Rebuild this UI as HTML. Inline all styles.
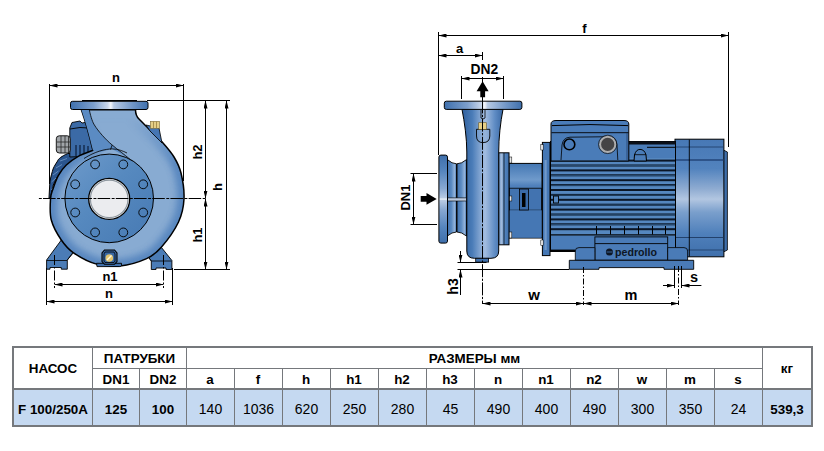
<!DOCTYPE html>
<html><head><meta charset="utf-8">
<style>
html,body{margin:0;padding:0;background:#fff;}
body{width:824px;height:451px;overflow:hidden;position:relative;font-family:"Liberation Sans",sans-serif;}
svg{position:absolute;left:0;top:0;}
.dim{stroke:#000;stroke-width:1;fill:none;}
.lbl{font-family:"Liberation Sans",sans-serif;font-weight:bold;font-size:13px;fill:#000;}
.tb{font-family:"Liberation Sans",sans-serif;font-size:14px;fill:#000;text-anchor:middle;}
.tbb{font-weight:bold;font-size:13.4px;}
</style></head>
<body>
<svg width="824" height="451" viewBox="0 0 824 451">
<defs>
  <marker id="ar" viewBox="0 0 8 4" refX="8" refY="2" markerWidth="8" markerHeight="4" markerUnits="userSpaceOnUse" orient="auto-start-reverse">
    <path d="M0,0 L8,2 L0,4 Z" fill="#000"/>
  </marker>
  <linearGradient id="flH" x1="0" x2="1" y1="0" y2="0">
    <stop offset="0" stop-color="#3f70ad"/>
    <stop offset="0.3" stop-color="#7d9fcc"/>
    <stop offset="0.48" stop-color="#c9d6ea"/>
    <stop offset="0.52" stop-color="#f4f6fb"/>
    <stop offset="0.56" stop-color="#b6c8e2"/>
    <stop offset="0.8" stop-color="#7196c6"/>
    <stop offset="1" stop-color="#3f70ad"/>
  </linearGradient>
  <linearGradient id="flV" x1="0" x2="0" y1="0" y2="1">
    <stop offset="0" stop-color="#3f70ad"/>
    <stop offset="0.4" stop-color="#7d9fcc"/>
    <stop offset="0.5" stop-color="#e8eef7"/>
    <stop offset="0.6" stop-color="#7d9fcc"/>
    <stop offset="1" stop-color="#3f70ad"/>
  </linearGradient>
  <linearGradient id="pipeH" x1="0" x2="1" y1="0" y2="0">
    <stop offset="0" stop-color="#3a68a3"/>
    <stop offset="0.2" stop-color="#8db0da"/>
    <stop offset="0.45" stop-color="#5d8cc4"/>
    <stop offset="1" stop-color="#3a68a3"/>
  </linearGradient>
  <linearGradient id="fanV" x1="0" x2="0" y1="0" y2="1">
    <stop offset="0" stop-color="#3f6fab"/>
    <stop offset="0.45" stop-color="#7fa2cf"/>
    <stop offset="0.57" stop-color="#b5c8e3"/>
    <stop offset="0.7" stop-color="#6f95c6"/>
    <stop offset="1" stop-color="#3f6fab"/>
  </linearGradient>
  <radialGradient id="vol" cx="0.7" cy="0.45" r="0.7">
    <stop offset="0" stop-color="#8fb1d6"/>
    <stop offset="0.6" stop-color="#7aa1cd"/>
    <stop offset="1" stop-color="#4e7fba"/>
  </radialGradient>
</defs>

<!-- ================= LEFT PUMP ================= -->
<defs>
  <radialGradient id="cas" gradientUnits="userSpaceOnUse" cx="112" cy="199" r="74">
    <stop offset="0" stop-color="#8cafd5"/>
    <stop offset="0.7" stop-color="#86aad2"/>
    <stop offset="0.88" stop-color="#6f99c9"/>
    <stop offset="1" stop-color="#4f80ba"/>
  </radialGradient>
  <linearGradient id="face" x1="0" y1="0" x2="1" y2="1">
    <stop offset="0" stop-color="#6f9bcb"/>
    <stop offset="0.45" stop-color="#5689bf"/>
    <stop offset="1" stop-color="#4679b3"/>
  </linearGradient>
</defs>
<!-- motor behind -->
<path d="M67.6,153.6 C62,156 58,159 57.6,161 C55,165 53,168 52.3,171.6 C51,176 50,180 49.7,184.9 L49,198 L51,198 C51.5,190 53,183 58.3,175.6 C62,169 70,160 92.9,150.3 Z" fill="#2a558f" stroke="#000" stroke-width="1"/>
<g stroke="#7aa2d0" stroke-width="0.7"><line x1="51" y1="190" x2="54.5" y2="186"/><line x1="51.5" y1="182" x2="56" y2="178"/><line x1="53" y1="175" x2="58.5" y2="171"/><line x1="56" y1="168" x2="62" y2="164.5"/><line x1="60" y1="161" x2="67" y2="158.5"/></g>
<path d="M69.8,157 L69.8,128 L72,122.5 L80,121 L82,123 L88,122 L89.5,135 L93.8,146 L92,156 Z" fill="#3b6aa6" stroke="#000" stroke-width="0.9"/>
<path d="M70,129 L80,127.5 L89,128" fill="none" stroke="#000" stroke-width="0.9"/>
<g fill="#1e3c66"><rect x="75" y="145" width="2" height="11"/><rect x="79" y="145" width="2" height="11"/><rect x="83" y="145" width="2" height="11"/><rect x="87" y="146" width="2" height="10"/></g>
<rect x="56.3" y="135.8" width="14" height="17.2" rx="3" fill="#a1a5a9" stroke="#1a1a1a" stroke-width="1"/>
<g stroke="#2a2a2a" stroke-width="0.8"><line x1="61" y1="136" x2="61" y2="153"/><line x1="65" y1="136" x2="65" y2="153"/><line x1="68.5" y1="136" x2="68.5" y2="153"/><line x1="57" y1="142" x2="70" y2="142"/><line x1="57" y1="147" x2="70" y2="147"/></g>
<!-- feet -->
<path d="M61.3,240 L46.6,260 L46.6,269.2 L50,269.2 L50,267.5 L61.3,267.5 L61.3,269.2 L67.3,269.2 L67.3,260 L73.5,252.6 Z" fill="#4b7cb6" stroke="#000" stroke-width="0.9"/>
<path d="M161.3,247.3 L171.9,260.5 L171.9,269.5 L166,269.5 L166,268 L156,268 L156,269.5 L151.3,269.5 L151.3,261 L148.6,257.3 Z" fill="#4b7cb6" stroke="#000" stroke-width="0.9"/>
<g stroke="#000" stroke-width="0.8"><line x1="47" y1="260.5" x2="67" y2="260.5"/><line x1="67.3" y1="260" x2="74" y2="251"/><line x1="151.5" y1="261" x2="171.5" y2="261"/><line x1="151.3" y1="261" x2="146" y2="254"/></g>
<!-- volute body -->
<clipPath id="bodyclip"><path d="M81.4,109.8 L135.5,109.7 C135.5,113 136.5,116.5 139.0,119.0 C140.8,120.8 146.0,126.0 150.0,130.0 C154.0,134.0 159.0,138.5 163.0,143.0 C167.0,147.5 171.0,152.0 174.0,157.0 C177.0,162.0 179.3,166.0 181.0,173.0 C182.7,180.0 184.4,190.8 184.0,199.0 C183.6,207.2 182.3,213.9 178.5,222.0 C174.7,230.1 166.6,241.2 161.3,247.3 C156.0,253.4 153.5,255.5 146.6,258.6 C139.7,261.7 128.5,265.1 120.0,266.0 C111.5,266.9 103.6,266.1 95.8,263.9 C88.0,261.7 79.0,256.6 73.2,252.6 C67.5,248.6 65.0,245.4 61.3,240.0 C57.6,234.6 53.1,226.8 51.3,220.0 C49.5,213.2 50.2,204.2 50.5,199.0 C50.8,193.8 51.7,192.8 53.0,188.9 C54.3,185.0 56.1,179.6 58.3,175.6 C60.5,171.6 63.0,168.2 66.3,165.0 C69.6,161.8 73.8,158.8 78.2,156.3 C82.6,153.9 90.5,151.3 92.9,150.3 C90,138 85,120 81.4,109.8 Z"/></clipPath>
<filter id="blr" x="-20%" y="-20%" width="140%" height="140%"><feGaussianBlur stdDeviation="3"/></filter>
<path d="M81.4,109.8 L135.5,109.7 C135.5,113 136.5,116.5 139.0,119.0 C140.8,120.8 146.0,126.0 150.0,130.0 C154.0,134.0 159.0,138.5 163.0,143.0 C167.0,147.5 171.0,152.0 174.0,157.0 C177.0,162.0 179.3,166.0 181.0,173.0 C182.7,180.0 184.4,190.8 184.0,199.0 C183.6,207.2 182.3,213.9 178.5,222.0 C174.7,230.1 166.6,241.2 161.3,247.3 C156.0,253.4 153.5,255.5 146.6,258.6 C139.7,261.7 128.5,265.1 120.0,266.0 C111.5,266.9 103.6,266.1 95.8,263.9 C88.0,261.7 79.0,256.6 73.2,252.6 C67.5,248.6 65.0,245.4 61.3,240.0 C57.6,234.6 53.1,226.8 51.3,220.0 C49.5,213.2 50.2,204.2 50.5,199.0 C50.8,193.8 51.7,192.8 53.0,188.9 C54.3,185.0 56.1,179.6 58.3,175.6 C60.5,171.6 63.0,168.2 66.3,165.0 C69.6,161.8 73.8,158.8 78.2,156.3 C82.6,153.9 90.5,151.3 92.9,150.3 C90,138 85,120 81.4,109.8 Z" fill="#88abd2"/>
<linearGradient id="mg" gradientUnits="userSpaceOnUse" x1="0" y1="118" x2="0" y2="165"><stop offset="0" stop-color="#fff" stop-opacity="0"/><stop offset="1" stop-color="#fff" stop-opacity="1"/></linearGradient>
<mask id="bandmask" maskUnits="userSpaceOnUse" x="0" y="0" width="824" height="340"><rect x="0" y="0" width="824" height="340" fill="url(#mg)"/></mask>
<g clip-path="url(#bodyclip)" mask="url(#bandmask)"><path d="M81.4,109.8 L135.5,109.7 C135.5,113 136.5,116.5 139.0,119.0 C140.8,120.8 146.0,126.0 150.0,130.0 C154.0,134.0 159.0,138.5 163.0,143.0 C167.0,147.5 171.0,152.0 174.0,157.0 C177.0,162.0 179.3,166.0 181.0,173.0 C182.7,180.0 184.4,190.8 184.0,199.0 C183.6,207.2 182.3,213.9 178.5,222.0 C174.7,230.1 166.6,241.2 161.3,247.3 C156.0,253.4 153.5,255.5 146.6,258.6 C139.7,261.7 128.5,265.1 120.0,266.0 C111.5,266.9 103.6,266.1 95.8,263.9 C88.0,261.7 79.0,256.6 73.2,252.6 C67.5,248.6 65.0,245.4 61.3,240.0 C57.6,234.6 53.1,226.8 51.3,220.0 C49.5,213.2 50.2,204.2 50.5,199.0 C50.8,193.8 51.7,192.8 53.0,188.9 C54.3,185.0 56.1,179.6 58.3,175.6 C60.5,171.6 63.0,168.2 66.3,165.0 C69.6,161.8 73.8,158.8 78.2,156.3 C82.6,153.9 90.5,151.3 92.9,150.3 C90,138 85,120 81.4,109.8 Z" fill="none" stroke="#4a7cb9" stroke-width="14" opacity="0.75" filter="url(#blr)"/></g>
<path d="M81.4,109.8 L135.5,109.7 C135.5,113 136.5,116.5 139.0,119.0 C140.8,120.8 146.0,126.0 150.0,130.0 C154.0,134.0 159.0,138.5 163.0,143.0 C167.0,147.5 171.0,152.0 174.0,157.0 C177.0,162.0 179.3,166.0 181.0,173.0 C182.7,180.0 184.4,190.8 184.0,199.0 C183.6,207.2 182.3,213.9 178.5,222.0 C174.7,230.1 166.6,241.2 161.3,247.3 C156.0,253.4 153.5,255.5 146.6,258.6 C139.7,261.7 128.5,265.1 120.0,266.0 C111.5,266.9 103.6,266.1 95.8,263.9 C88.0,261.7 79.0,256.6 73.2,252.6 C67.5,248.6 65.0,245.4 61.3,240.0 C57.6,234.6 53.1,226.8 51.3,220.0 C49.5,213.2 50.2,204.2 50.5,199.0 C50.8,193.8 51.7,192.8 53.0,188.9 C54.3,185.0 56.1,179.6 58.3,175.6 C60.5,171.6 63.0,168.2 66.3,165.0 C69.6,161.8 73.8,158.8 78.2,156.3 C82.6,153.9 90.5,151.3 92.9,150.3 C90,138 85,120 81.4,109.8 Z" fill="none" stroke="#000" stroke-width="1.5"/>

<path d="M81.4,109.8 C85,120 90,138 92.9,150.3 L100,152 L112,149 L128.8,158.3 C125,155 118,150 112.2,145 C106,140 98,131 94.4,125 C93,123 91,118 89.3,109.8 Z" fill="#5b8bc3"/>
<path d="M89.3,109.8 C91,118 93,123 94.4,125 C98,131 106,140 112.2,145 C118,150 125,155 128.8,158.3 C134,162 142,169 148,177" fill="none" stroke="#000" stroke-width="0.8"/>
<path d="M84,158.5 C95,151.5 105,149 112.2,148.9 C118,149 123,151 127,153" fill="none" stroke="#000" stroke-width="0.8"/>
<line x1="112.2" y1="145" x2="110.5" y2="149.5" stroke="#000" stroke-width="0.8"/>
<!-- plug top right -->
<path d="M146,125 L159,128 L162,143 L150,131 Z" fill="#4676b3" stroke="#000" stroke-width="0.8"/>
<rect x="150.3" y="121.3" width="9.3" height="7" fill="#e6cf86" stroke="#7a6a3a" stroke-width="0.6"/>
<g stroke="#9a8240" stroke-width="0.8"><line x1="153.5" y1="121.5" x2="153.5" y2="128"/><line x1="156.5" y1="121.5" x2="156.5" y2="128"/></g>
<!-- flange top -->
<rect x="70.5" y="101.3" width="77.5" height="8.2" rx="2" fill="url(#flH)" stroke="#000" stroke-width="1"/>
<line x1="82" y1="100.5" x2="137" y2="100.5" stroke="#000" stroke-width="1"/>
<!-- flange face -->
<circle cx="109.2" cy="198.4" r="44.3" fill="url(#face)" stroke="#000" stroke-width="1"/>
<g fill="none" stroke="#000" stroke-width="0.9">
  <circle cx="123.3" cy="164.4" r="4.4"/>
  <circle cx="143.2" cy="184.3" r="4.4"/>
  <circle cx="143.2" cy="212.5" r="4.4"/>
  <circle cx="123.3" cy="232.4" r="4.4"/>
  <circle cx="95.1" cy="232.4" r="4.4"/>
  <circle cx="75.2" cy="212.5" r="4.4"/>
  <circle cx="75.2" cy="184.3" r="4.4"/>
  <circle cx="95.1" cy="164.4" r="4.4"/>
</g>
<circle cx="109.2" cy="198.9" r="20.5" fill="#ebecef" stroke="#000" stroke-width="1.3"/>
<circle cx="109.2" cy="198.9" r="18.8" fill="none" stroke="#8e979f" stroke-width="1.2"/>
<!-- drain plug -->
<path d="M96.5,263.3 L121.5,263.3 L121.5,265.5 Q121,266.6 119.5,266.6 L97,266.6 Z" fill="#3f6fab" stroke="#000" stroke-width="0.9"/>
<path d="M104.5,250 L114.5,250 L117,253 L117,261.5 L114.5,264.3 L104.5,264.3 L102,261.5 L102,253 Z" fill="#3a69a5" stroke="#000" stroke-width="1.1"/>
<path d="M105,252 L114,252 L115,254 L115,261 L114,262.5 L105,262.5 L104,261 L104,254 Z" fill="none" stroke="#000" stroke-width="0.8"/>
<circle cx="109.3" cy="258" r="3.8" fill="#e2c46e"/>
<path d="M107,260 L111.5,255.5" stroke="#fff8dc" stroke-width="1.4"/>
<!-- left dims -->
<g class="dim">
  <line x1="49.5" y1="84" x2="49.5" y2="184"/>
  <line x1="183.5" y1="84" x2="183.5" y2="181"/>
  <line x1="49.5" y1="85.5" x2="183.5" y2="85.5" marker-start="url(#ar)" marker-end="url(#ar)"/>
  <line x1="147" y1="100.5" x2="230" y2="100.5"/>
  <line x1="174" y1="269.5" x2="230" y2="269.5"/>
  <line x1="205.5" y1="100.5" x2="205.5" y2="198.5" marker-start="url(#ar)" marker-end="url(#ar)"/>
  <line x1="205.5" y1="198.5" x2="205.5" y2="269.5" marker-start="url(#ar)" marker-end="url(#ar)"/>
  <line x1="226.5" y1="100.5" x2="226.5" y2="269.5" marker-start="url(#ar)" marker-end="url(#ar)"/>
  <line x1="38.9" y1="198.5" x2="205" y2="198.5" stroke-dasharray="12.6,1.5,2.9,1.2" stroke-dashoffset="14.1"/>
  <line x1="54.5" y1="255" x2="54.5" y2="288" stroke-dasharray="10,2,1.5,2"/>
  <line x1="163.5" y1="255" x2="163.5" y2="288" stroke-dasharray="10,2,1.5,2"/>
  <line x1="54.5" y1="284.5" x2="163.5" y2="284.5" marker-start="url(#ar)" marker-end="url(#ar)"/>
  <line x1="46.5" y1="268" x2="46.5" y2="305"/>
  <line x1="172.5" y1="268" x2="172.5" y2="305"/>
  <line x1="46.5" y1="301.5" x2="172.5" y2="301.5" marker-start="url(#ar)" marker-end="url(#ar)"/>
</g>
<text class="lbl" x="116" y="82" text-anchor="middle">n</text>
<text class="lbl" x="110" y="281" text-anchor="middle">n1</text>
<text class="lbl" x="109" y="298" text-anchor="middle">n</text>
<text class="lbl" transform="translate(202,152) rotate(-90)" text-anchor="middle">h2</text>
<text class="lbl" transform="translate(222,187) rotate(-90)" text-anchor="middle">h</text>
<text class="lbl" transform="translate(202,235) rotate(-90)" text-anchor="middle">h1</text>

<!-- ================= RIGHT PUMP ================= -->
<defs>
  <linearGradient id="vpipe" x1="0" x2="1" y1="0" y2="0">
    <stop offset="0" stop-color="#2f5f9c"/>
    <stop offset="0.25" stop-color="#4a7cb8"/>
    <stop offset="0.56" stop-color="#a3bde0"/>
    <stop offset="0.8" stop-color="#5f8cc4"/>
    <stop offset="1" stop-color="#3a69a5"/>
  </linearGradient>
  <linearGradient id="fan2" x1="0" x2="0" y1="0" y2="1">
    <stop offset="0" stop-color="#4778b5"/>
    <stop offset="0.25" stop-color="#5283be"/>
    <stop offset="0.42" stop-color="#8eabd1"/>
    <stop offset="0.51" stop-color="#b2c6e1"/>
    <stop offset="0.62" stop-color="#7a9fcc"/>
    <stop offset="0.8" stop-color="#4f80bb"/>
    <stop offset="1" stop-color="#3f6fab"/>
  </linearGradient>
  <linearGradient id="lant" x1="0" x2="0" y1="0" y2="1">
    <stop offset="0" stop-color="#4477b3"/>
    <stop offset="0.22" stop-color="#6f9acb"/>
    <stop offset="0.3" stop-color="#4f80bb"/>
    <stop offset="1" stop-color="#4a7bb7"/>
  </linearGradient>
  <linearGradient id="inl" x1="0" x2="0" y1="0" y2="1">
    <stop offset="0" stop-color="#3f6fab"/>
    <stop offset="0.18" stop-color="#5585be"/>
    <stop offset="0.38" stop-color="#88a8d2"/>
    <stop offset="0.485" stop-color="#b9cbe4"/>
    <stop offset="0.5" stop-color="#f0f4fa"/>
    <stop offset="0.515" stop-color="#b9cbe4"/>
    <stop offset="0.62" stop-color="#88a8d2"/>
    <stop offset="0.82" stop-color="#5585be"/>
    <stop offset="1" stop-color="#3f6fab"/>
  </linearGradient>
</defs>
<!-- fan cover -->
<path d="M723.5,150 L727.4,152 L727.4,250 L723.5,252 Z" fill="#3f6fab" stroke="#000" stroke-width="0.8"/>
<rect x="675" y="139.2" width="48.9" height="117.6" fill="url(#fan2)" stroke="#000" stroke-width="1"/>
<line x1="675.5" y1="147" x2="723.5" y2="147" stroke="#1d3a63" stroke-width="0.8"/>
<line x1="675.5" y1="160" x2="723.5" y2="160" stroke="#23467a" stroke-width="1.6"/>
<line x1="675.5" y1="237.5" x2="723.5" y2="237.5" stroke="#1d3a63" stroke-width="0.9"/>
<line x1="675.5" y1="250" x2="723.5" y2="250" stroke="#1d3a63" stroke-width="0.8"/>
<line x1="689.3" y1="139.5" x2="689.3" y2="256.5" stroke="#000" stroke-width="0.9"/>
<!-- motor body -->
<rect x="550.5" y="141.5" width="125" height="110" fill="#4a7cb8" stroke="#000" stroke-width="1"/>
<rect x="629" y="141.5" width="46.5" height="3" fill="#0a0f18"/>
<line x1="647" y1="147.3" x2="675" y2="147.3" stroke="#000" stroke-width="1"/>
<rect x="551" y="158" width="124" height="78" fill="#5587bf"/>
<g fill="#0b1626">
  <rect x="551" y="159.6" width="124" height="2.0"/>
  <rect x="551" y="164.5" width="124" height="2.0"/>
  <rect x="551" y="165.2" width="124" height="0.8" fill="#2d5680"/>
  <rect x="551" y="169.4" width="124" height="2.0"/>
  <rect x="551" y="174.3" width="124" height="2.0"/>
  <rect x="551" y="175.1" width="124" height="0.8" fill="#2d5680"/>
  <rect x="551" y="179.2" width="124" height="2.0"/>
  <rect x="551" y="184.1" width="124" height="2.0"/>
  <rect x="551" y="184.9" width="124" height="0.8" fill="#2d5680"/>
  <rect x="551" y="189.0" width="124" height="2.0"/>
  <rect x="551" y="193.9" width="124" height="2.0"/>
  <rect x="551" y="194.7" width="124" height="0.8" fill="#2d5680"/>
  <rect x="551" y="198.8" width="124" height="2.0"/>
  <rect x="551" y="203.7" width="124" height="2.0"/>
  <rect x="551" y="204.5" width="124" height="0.8" fill="#2d5680"/>
  <rect x="551" y="208.6" width="124" height="2.0"/>
  <rect x="551" y="213.5" width="124" height="2.0"/>
  <rect x="551" y="214.3" width="124" height="0.8" fill="#2d5680"/>
  <rect x="551" y="218.4" width="124" height="2.0"/>
  <rect x="551" y="223.3" width="124" height="2.0"/>
  <rect x="551" y="224.1" width="124" height="0.8" fill="#2d5680"/>
  <rect x="551" y="228.2" width="124" height="2.0"/>
</g>
<rect x="551" y="234.3" width="124" height="1.2" fill="#000"/>
<g fill="#000"><rect x="596.0" y="226" width="1" height="8.5"/><rect x="610.0" y="226" width="1" height="8.5"/><rect x="624.0" y="226" width="1" height="8.5"/><rect x="638.0" y="226" width="1" height="8.5"/><rect x="652.0" y="226" width="1" height="8.5"/><rect x="665.0" y="226" width="1" height="8.5"/></g>
<rect x="553.5" y="196" width="5" height="7" fill="#5587bf" stroke="#000" stroke-width="0.9"/>
<rect x="551" y="249.6" width="24" height="2" fill="#000"/>
<!-- terminal box -->
<path d="M551,161 L551,124 Q551,120.5 556,120.5 L624,120.5 Q628.8,120.5 628.8,124 L628.8,161 Z" fill="#4a7cb8" stroke="#000" stroke-width="1"/>
<path d="M552,125.6 Q590,123.5 628,125.6" fill="none" stroke="#000" stroke-width="1"/>
<line x1="551.5" y1="132.7" x2="628.5" y2="132.7" stroke="#000" stroke-width="0.9"/>
<line x1="627" y1="133" x2="627" y2="161" stroke="#1d3a63" stroke-width="0.7"/>
<path d="M561,160 L562,145 Q563,137.5 570,137.2 L610,136.7 Q616,137 617,145 L617.8,160" fill="none" stroke="#000" stroke-width="0.8"/>
<circle cx="569.4" cy="144.4" r="5.4" fill="#4a7cb8" stroke="#000" stroke-width="1.6"/>
<circle cx="607.7" cy="144.4" r="7.6" fill="#444446" stroke="#adadad" stroke-width="2"/>
<circle cx="607.7" cy="144.4" r="9.2" fill="none" stroke="#1a1a1a" stroke-width="0.8"/>
<path d="M634,161 L634.5,155 Q636,149.4 640,149.4 Q644.5,149.4 646,155 L646.5,161 Z" fill="#4a7cb8" stroke="#000" stroke-width="1"/>
<line x1="634.3" y1="154.7" x2="646.2" y2="154.7" stroke="#000" stroke-width="0.8"/>
<!-- base -->
<rect x="594.9" y="236.9" width="72.8" height="23.3" fill="#4a7bb7" stroke="#000" stroke-width="0.9"/>
<line x1="595" y1="243.6" x2="667.6" y2="243.6" stroke="#000" stroke-width="0.9"/>
<path d="M575.3,260.3 L575.3,251 Q575.3,247.6 579,247.6 L594.9,247.6 L594.9,260.3 Z" fill="#4a7bb7" stroke="#000" stroke-width="0.8"/>
<path d="M667.7,260.3 L667.7,247.6 L684,247.6 Q687.6,247.6 687.6,251 L687.6,260.3 Z" fill="#4a7bb7" stroke="#000" stroke-width="0.8"/>
<path d="M569.3,260.3 L693.7,260.3 L693.7,269.3 L664,269.3 L664,267.6 L599,267.6 L599,269.3 L569.3,269.3 Z" fill="#4a7bb7" stroke="#000" stroke-width="0.9"/>
<circle cx="609.4" cy="252" r="3.5" fill="#0d1624"/>
<line x1="606.5" y1="252" x2="612.3" y2="252" stroke="#4a7bb7" stroke-width="0.8"/>
<text x="636" y="256" text-anchor="middle" font-family="Liberation Sans" font-weight="bold" font-size="11" fill="#0d1624" textLength="42" lengthAdjust="spacingAndGlyphs">pedrollo</text>
<!-- motor flange -->
<rect x="542.4" y="142.4" width="7.6" height="113.2" fill="#4577b4" stroke="#000" stroke-width="1"/>
<rect x="544.5" y="160" width="2.2" height="90" fill="#7199ca"/>
<rect x="540.8" y="144.7" width="2.4" height="5.3" fill="#e8e8e8" stroke="#000" stroke-width="0.5"/>
<rect x="540.8" y="240" width="2.4" height="5.3" fill="#e8e8e8" stroke="#000" stroke-width="0.5"/>
<!-- lantern -->
<rect x="509" y="163.4" width="33" height="74.6" fill="url(#lant)" stroke="#000" stroke-width="1"/>
<rect x="509.5" y="188.2" width="32" height="22" fill="#4273b0" stroke="#000" stroke-width="0.8"/>
<rect x="509.5" y="210.2" width="32" height="27.5" fill="#4577b4"/>
<rect x="519.5" y="189" width="9" height="21" fill="#3a6aa8" stroke="#000" stroke-width="0.8"/>
<rect x="522" y="193" width="3.5" height="14" fill="#000"/>
<rect x="509.3" y="196" width="2.5" height="5" fill="#e8e8e8" stroke="#000" stroke-width="0.5"/>
<!-- collar -->
<linearGradient id="colH" x1="0" x2="1" y1="0" y2="0"><stop offset="0" stop-color="#6f97c9"/><stop offset="0.3" stop-color="#a5bddd"/><stop offset="0.5" stop-color="#5586bf"/><stop offset="1" stop-color="#3f70ad"/></linearGradient>
<rect x="498.7" y="152.8" width="10.3" height="92" fill="url(#colH)" stroke="#000" stroke-width="1"/>
<line x1="504" y1="153" x2="504" y2="244.5" stroke="#000" stroke-width="0.7"/>
<rect x="509.3" y="157" width="2.5" height="6" fill="#e8e8e8" stroke="#000" stroke-width="0.5"/>
<rect x="509.3" y="232" width="2.5" height="6" fill="#e8e8e8" stroke="#000" stroke-width="0.5"/>
<!-- inlet pipe -->
<linearGradient id="ring" x1="0" x2="1" y1="0" y2="0"><stop offset="0" stop-color="#3f70ad"/><stop offset="0.45" stop-color="#5b8bc3"/><stop offset="0.8" stop-color="#93b3da"/><stop offset="1" stop-color="#3f70ad"/></linearGradient>
<path d="M447.4,159.6 Q452,163.8 456.5,163.8 L456.5,232 Q452,232 447.4,236 Z" fill="url(#ring)" stroke="#000" stroke-width="0.9"/>
<path d="M457,163.8 Q461.5,163.8 466.5,159.6 L466.5,236 Q461.5,232 457,232 Z" fill="url(#ring)" stroke="#000" stroke-width="0.9"/>
<rect x="447.4" y="197.9" width="19.2" height="3.1" fill="#b9c9e0" stroke="#000" stroke-width="0.6"/>
<!-- inlet flange -->
<rect x="438.9" y="155.1" width="8.6" height="88" rx="2" fill="url(#inl)" stroke="#000" stroke-width="1"/>
<!-- vertical pipe -->
<path d="M462,109.4 L503,109.4 C500.5,122 498.7,138 498.7,152 L498.7,251 Q498.7,258.3 491,258.3 L474.5,258.3 Q466.8,258.3 466.8,251 L466.8,152 C466.8,138 464.5,122 462,109.4 Z" fill="url(#vpipe)" stroke="#000" stroke-width="1"/>
<rect x="475.7" y="258.3" width="12.9" height="3.8" fill="#3f6fab" stroke="#000" stroke-width="0.8"/>
<path d="M476.5,129.3 L476.5,136 Q476.5,142.6 483,142.6 Q489.8,142.6 489.8,136 L489.8,129.3 Z" fill="#7ea3d0" fill-opacity="0.35" stroke="#000" stroke-width="0.9"/>
<rect x="478.7" y="122.7" width="7.7" height="6.6" fill="#e6cf86" stroke="#6b5a2a" stroke-width="0.6"/>
<path d="M481,110 L481,118 Q483,120 485,118 L485,110" fill="none" stroke="#000" stroke-width="0.8"/>
<!-- outlet flange -->
<rect x="444.3" y="101.2" width="77.6" height="8.2" rx="2" fill="url(#flH)" stroke="#000" stroke-width="1"/>
<!-- arrows -->
<path d="M480.3,97.2 L480.3,91.2 L476.6,91.2 L482.6,81.3 L488.6,91.2 L485.1,91.2 L485.1,97.2 Z" fill="#000"/>
<path d="M420.7,196 L426.5,196 L426.5,193 L436.7,198.9 L426.5,204.7 L426.5,201.8 L420.7,201.8 Z" fill="#000"/>

<!-- right dims -->
<g class="dim">
  <line x1="438.5" y1="32" x2="438.5" y2="155"/>
  <line x1="728.5" y1="32" x2="728.5" y2="147"/>
  <line x1="438.5" y1="35.5" x2="728.5" y2="35.5" marker-start="url(#ar)" marker-end="url(#ar)"/>
  <line x1="438.5" y1="55.5" x2="482.5" y2="55.5" marker-start="url(#ar)" marker-end="url(#ar)"/>
  <line x1="482.5" y1="52" x2="482.5" y2="60"/>
  <line x1="461.5" y1="76" x2="461.5" y2="99"/>
  <line x1="503.5" y1="76" x2="503.5" y2="99"/>
  <line x1="461.5" y1="78.5" x2="503.5" y2="78.5" marker-start="url(#ar)" marker-end="url(#ar)"/>
  <line x1="482.5" y1="77" x2="482.5" y2="110"/>
  <line x1="482.5" y1="110" x2="482.5" y2="304" stroke-dasharray="13,1.5,2.2,1.5" stroke-dashoffset="9.6"/>
  <line x1="410.5" y1="173.5" x2="437" y2="173.5"/>
  <line x1="410.5" y1="224.5" x2="437" y2="224.5"/>
  <line x1="413.5" y1="173.5" x2="413.5" y2="224.5" marker-start="url(#ar)" marker-end="url(#ar)"/>
  <line x1="457.5" y1="262.5" x2="486.5" y2="262.5"/>
  <line x1="457.5" y1="269.5" x2="569" y2="269.5"/>
  <line x1="460.5" y1="251" x2="460.5" y2="262.5" marker-end="url(#ar)"/>
  <line x1="460.5" y1="295" x2="460.5" y2="269.5" marker-end="url(#ar)"/>
  <line x1="482.5" y1="303.5" x2="583.5" y2="303.5" marker-start="url(#ar)" marker-end="url(#ar)"/>
  <line x1="583.5" y1="303.5" x2="678.5" y2="303.5" marker-start="url(#ar)" marker-end="url(#ar)"/>
  <line x1="583.5" y1="267" x2="583.5" y2="305" stroke-dasharray="6,2,1.5,2"/>
  <line x1="678.5" y1="266" x2="678.5" y2="305" stroke-dasharray="6,2,1.5,2"/>
  <line x1="674.5" y1="266" x2="674.5" y2="288"/>
  <line x1="681.5" y1="266" x2="681.5" y2="288"/>
  <line x1="663" y1="285.5" x2="674.5" y2="285.5" marker-end="url(#ar)"/>
  <line x1="701.4" y1="285.5" x2="681.5" y2="285.5" marker-end="url(#ar)"/>
</g>
<text class="lbl" x="584.5" y="33" text-anchor="middle">f</text>
<text class="lbl" x="459.5" y="53" text-anchor="middle">a</text>
<text class="lbl" x="484.3" y="73.8" text-anchor="middle" style="font-size:13.8px">DN2</text>
<text class="lbl" transform="translate(410,197.6) rotate(-90)" text-anchor="middle">DN1</text>
<text class="lbl" transform="translate(458,286.5) rotate(-90)" text-anchor="middle" style="font-size:14px">h3</text>
<text class="lbl" x="534" y="300" text-anchor="middle" style="font-size:15px">w</text>
<text class="lbl" x="631" y="300" text-anchor="middle" style="font-size:14.5px">m</text>
<text class="lbl" x="694" y="282" text-anchor="middle" style="font-size:14.5px">s</text>

<!-- ================= TABLE ================= -->
<g shape-rendering="crispEdges">
  <rect x="14" y="390" width="797" height="35" fill="#c5d9f1"/>
  <g fill="#75787c">
    <rect x="12" y="346" width="801" height="2"/>
    <rect x="12" y="425" width="801" height="2"/>
    <rect x="12" y="346" width="2" height="81"/>
    <rect x="811" y="346" width="2" height="81"/>
    <rect x="12" y="388" width="801" height="2"/>
    <rect x="92" y="346" width="1" height="81"/>
    <rect x="186" y="346" width="1" height="81"/>
    <rect x="762" y="346" width="1" height="81"/>
    <rect x="92" y="368" width="670" height="1"/>
    <rect x="139" y="368" width="1" height="58"/>
    <rect x="234" y="368" width="1" height="58"/>
    <rect x="282" y="368" width="1" height="58"/>
    <rect x="330" y="368" width="1" height="58"/>
    <rect x="378" y="368" width="1" height="58"/>
    <rect x="426" y="368" width="1" height="58"/>
    <rect x="474" y="368" width="1" height="58"/>
    <rect x="522" y="368" width="1" height="58"/>
    <rect x="570" y="368" width="1" height="58"/>
    <rect x="618" y="368" width="1" height="58"/>
    <rect x="666" y="368" width="1" height="58"/>
    <rect x="714" y="368" width="1" height="58"/>
  </g>
</g>
<g class="tb tbb">
  <text x="53" y="373">НАСОС</text>
  <text x="139.5" y="363">ПАТРУБКИ</text>
  <text x="474.5" y="363">РАЗМЕРЫ мм</text>
  <text x="787" y="373">кг</text>
  <text x="116" y="384">DN1</text>
  <text x="163" y="384">DN2</text>
  <text x="210" y="384">a</text>
  <text x="258" y="384">f</text>
  <text x="306" y="384">h</text>
  <text x="354" y="384">h1</text>
  <text x="402" y="384">h2</text>
  <text x="450" y="384">h3</text>
  <text x="498" y="384">n</text>
  <text x="546" y="384">n1</text>
  <text x="594" y="384">n2</text>
  <text x="642" y="384">w</text>
  <text x="690" y="384">m</text>
  <text x="738" y="384">s</text>
  <text x="53" y="413.6">F 100/250A</text>
  <text x="116" y="413.6">125</text>
  <text x="163" y="413.6">100</text>
  <text x="787" y="413.6">539,3</text>
</g>
<g class="tb">
  <text x="210.5" y="413.6">140</text>
  <text x="258.5" y="413.6">1036</text>
  <text x="306.5" y="413.6">620</text>
  <text x="354.5" y="413.6">250</text>
  <text x="402.5" y="413.6">280</text>
  <text x="450.5" y="413.6">45</text>
  <text x="498.5" y="413.6">490</text>
  <text x="546.5" y="413.6">400</text>
  <text x="594.5" y="413.6">490</text>
  <text x="642.5" y="413.6">300</text>
  <text x="690.5" y="413.6">350</text>
  <text x="738.5" y="413.6">24</text>
</g>
</svg>
</body></html>
